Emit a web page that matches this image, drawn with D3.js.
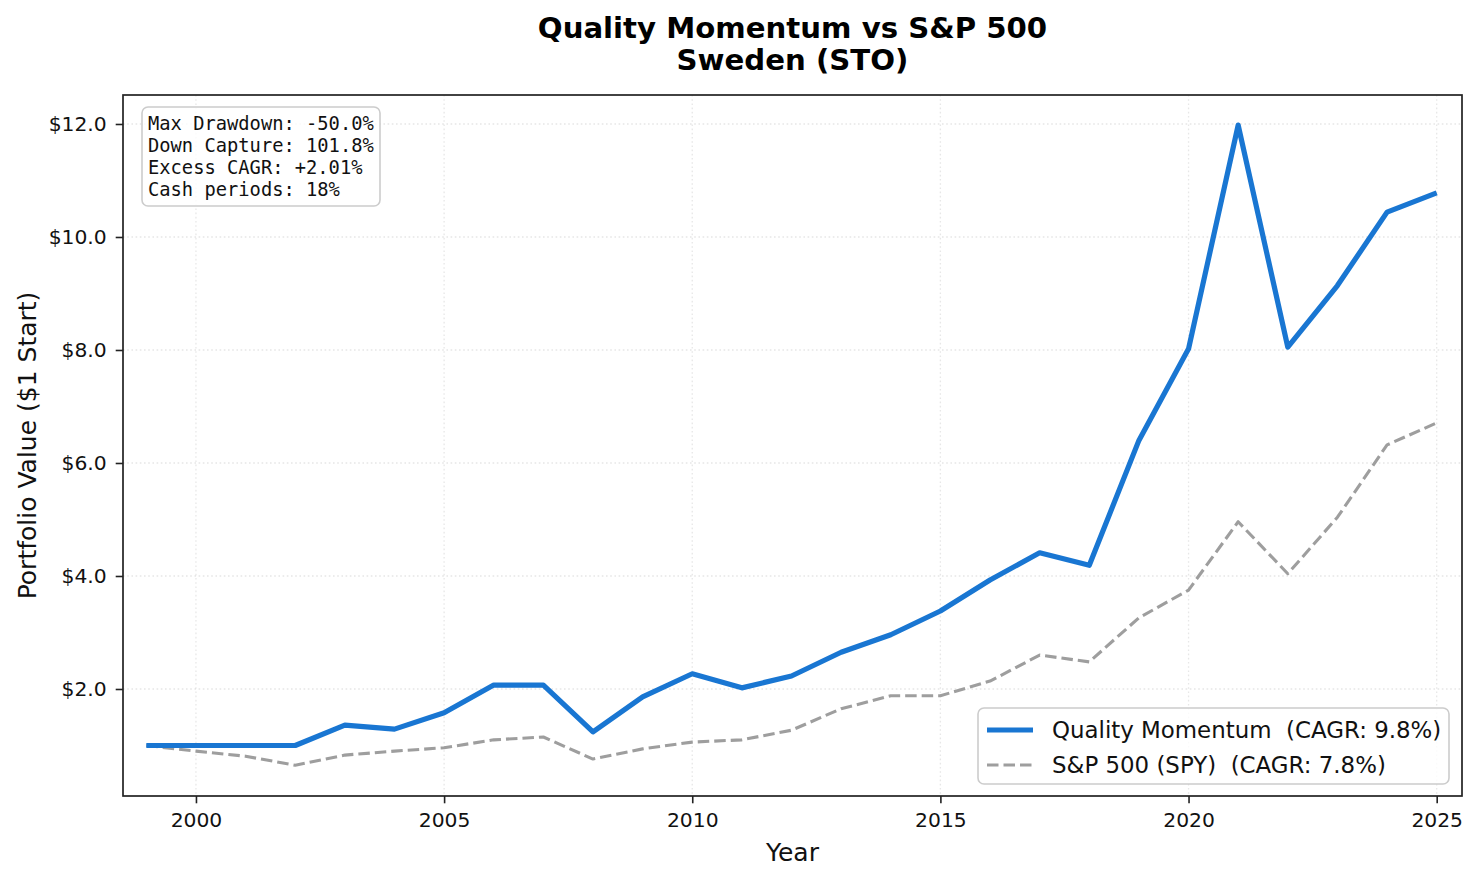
<!DOCTYPE html>
<html>
<head>
<meta charset="utf-8">
<script src="https://cdn.jsdelivr.net/npm/d3@7"></script>
<style>
  body { margin: 0; background: #fff; }
  svg { display: block; font-family: "DejaVu Sans", sans-serif; }
  text { white-space: pre; }
</style>
</head>
<body>
<div id="chart"></div>
<script>
// data
var years = [1999, 2000, 2001, 2002, 2003, 2004, 2005, 2006, 2007, 2008, 2009, 2010, 2011, 2012,
             2013, 2014, 2015, 2016, 2017, 2018, 2019, 2020, 2021, 2022, 2023, 2024, 2025];
var qualityMomentum = [1.0, 1.0, 1.0, 1.0, 1.36, 1.29, 1.58, 2.07, 2.07, 1.24, 1.86, 2.27, 2.02, 2.23,
                       2.65, 2.96, 3.38, 3.93, 4.41, 4.19, 6.40, 8.02, 11.98, 8.05, 9.14, 10.44, 10.78];
var spy = [1.0, 0.9, 0.81, 0.65, 0.83, 0.9, 0.96, 1.1, 1.15, 0.76, 0.94, 1.06, 1.1, 1.27,
           1.65, 1.88, 1.88, 2.14, 2.6, 2.48, 3.26, 3.75, 4.96, 4.04, 5.04, 6.32, 6.71];
var xTicks = [2000, 2005, 2010, 2015, 2020, 2025];
var yTicks = [2, 4, 6, 8, 10, 12];
var seriesNames = ["Quality Momentum  (CAGR: 9.8%)", "S&P 500 (SPY)  (CAGR: 7.8%)"];
var statsLines = ["Max Drawdown: -50.0%", "Down Capture: 101.8%", "Excess CAGR: +2.01%", "Cash periods: 18%"];

// Step One: set up the chart
var svgWidth = 1479;
var svgHeight = 879;
var margin = { top: 95, right: 17, bottom: 83, left: 123 };
var width = svgWidth - margin.left - margin.right;
var height = svgHeight - margin.top - margin.bottom;

var svg = d3.select("#chart")
    .append("svg")
    .attr("width", svgWidth)
    .attr("height", svgHeight);

var chartGroup = svg.append("g")
    .attr("transform", `translate(${margin.left}, ${margin.top})`);

var xScale = d3.scaleLinear().domain([1998.53, 2025.51]).range([0, width]);
var yScale = d3.scaleLinear().domain([0.106, 12.513]).range([height, 0]);

// grid
chartGroup.append("g")
    .selectAll("line")
    .data(xTicks)
    .enter()
    .append("line")
    .attr("x1", d => xScale(d)).attr("x2", d => xScale(d))
    .attr("y1", 0).attr("y2", height)
    .attr("stroke", "#b0b0b0").attr("stroke-opacity", 0.3)
    .attr("stroke-width", 1.3).attr("stroke-dasharray", "1.6,2.6");

chartGroup.append("g")
    .selectAll("line")
    .data(yTicks)
    .enter()
    .append("line")
    .attr("x1", 0).attr("x2", width)
    .attr("y1", d => yScale(d)).attr("y2", d => yScale(d))
    .attr("stroke", "#b0b0b0").attr("stroke-opacity", 0.3)
    .attr("stroke-width", 1.3).attr("stroke-dasharray", "1.6,2.6");

// lines
var line = d3.line()
    .x((d, i) => xScale(years[i]))
    .y(d => yScale(d));

chartGroup.append("path")
    .datum(spy)
    .attr("d", line)
    .attr("fill", "none")
    .attr("stroke", "#9e9e9e")
    .attr("stroke-width", 3.1)
    .attr("stroke-dasharray", "11.5,5")
    .attr("stroke-linejoin", "round");

chartGroup.append("path")
    .datum(qualityMomentum)
    .attr("d", line)
    .attr("fill", "none")
    .attr("stroke", "#1976d2")
    .attr("stroke-width", 5.2)
    .attr("stroke-linejoin", "round");

// axes
var bottomAxis = d3.axisBottom(xScale).tickValues(xTicks).tickFormat(d3.format("d"))
    .tickSize(7.3).tickPadding(9);
var leftAxis = d3.axisLeft(yScale).tickValues(yTicks).tickFormat(d => "$" + d.toFixed(1))
    .tickSize(7.3).tickPadding(9);

var xAxisG = chartGroup.append("g")
    .attr("transform", `translate(0, ${height})`)
    .call(bottomAxis);
var yAxisG = chartGroup.append("g")
    .call(leftAxis);

[xAxisG, yAxisG].forEach(function(g) {
    g.select(".domain").remove();
    g.selectAll(".tick line").attr("stroke", "#222").attr("stroke-width", 1.6);
    g.selectAll(".tick text")
        .attr("fill", "#111")
        .style("font-size", "20.3px")
        .style("font-family", "DejaVu Sans, sans-serif");
});

// frame
chartGroup.append("rect")
    .attr("width", width)
    .attr("height", height)
    .attr("fill", "none")
    .attr("stroke", "#222")
    .attr("stroke-width", 1.7);

// stats box
var statsG = chartGroup.append("g").attr("transform", "translate(19, 12)");
statsG.append("rect")
    .attr("width", 238).attr("height", 99)
    .attr("rx", 6)
    .attr("fill", "#fff").attr("fill-opacity", 0.8)
    .attr("stroke", "#cccccc").attr("stroke-width", 1.6);
statsG.append("text")
    .style("font-family", "DejaVu Sans Mono, monospace")
    .style("font-size", "18.75px")
    .attr("fill", "#111")
    .selectAll("tspan")
    .data(statsLines)
    .enter()
    .append("tspan")
    .attr("x", 6)
    .attr("y", (d, i) => 22.5 + i * 22.3)
    .text(d => d);

// legend
var legendG = chartGroup.append("g")
    .attr("transform", `translate(${width - 484}, ${height - 88})`);
legendG.append("rect")
    .attr("width", 471).attr("height", 76)
    .attr("rx", 6)
    .attr("fill", "#fff").attr("fill-opacity", 0.8)
    .attr("stroke", "#cccccc").attr("stroke-width", 1.6);

var legendStyles = [
    { color: "#1976d2", w: 5.2, dash: null },
    { color: "#9e9e9e", w: 3.1, dash: "11.5,5" }
];
seriesNames.forEach(function(name, i) {
    var ly = 22 + i * 35;
    legendG.append("line")
        .attr("x1", 9).attr("x2", 55)
        .attr("y1", ly).attr("y2", ly)
        .attr("stroke", legendStyles[i].color)
        .attr("stroke-width", legendStyles[i].w)
        .attr("stroke-dasharray", legendStyles[i].dash);
    legendG.append("text")
        .attr("x", 74)
        .attr("y", ly + 8)
        .attr("xml:space", "preserve")
        .style("font-size", "22.9px")
        .attr("fill", "#111")
        .text(name);
});

// labels
svg.append("text")
    .attr("x", margin.left + width / 2)
    .attr("y", 861)
    .attr("text-anchor", "middle")
    .style("font-size", "25px")
    .attr("fill", "#111")
    .text("Year");

svg.append("text")
    .attr("transform", `translate(36, ${margin.top + height / 2}) rotate(-90)`)
    .attr("text-anchor", "middle")
    .style("font-size", "25px")
    .attr("fill", "#111")
    .text("Portfolio Value ($1 Start)");

svg.append("text")
    .attr("x", margin.left + width / 2)
    .attr("y", 38)
    .attr("text-anchor", "middle")
    .style("font-size", "29.2px")
    .style("font-weight", "bold")
    .attr("fill", "#000")
    .text("Quality Momentum vs S&P 500");

svg.append("text")
    .attr("x", margin.left + width / 2)
    .attr("y", 70)
    .attr("text-anchor", "middle")
    .style("font-size", "29.2px")
    .style("font-weight", "bold")
    .attr("fill", "#000")
    .text("Sweden (STO)");
</script>
</body>
</html>
